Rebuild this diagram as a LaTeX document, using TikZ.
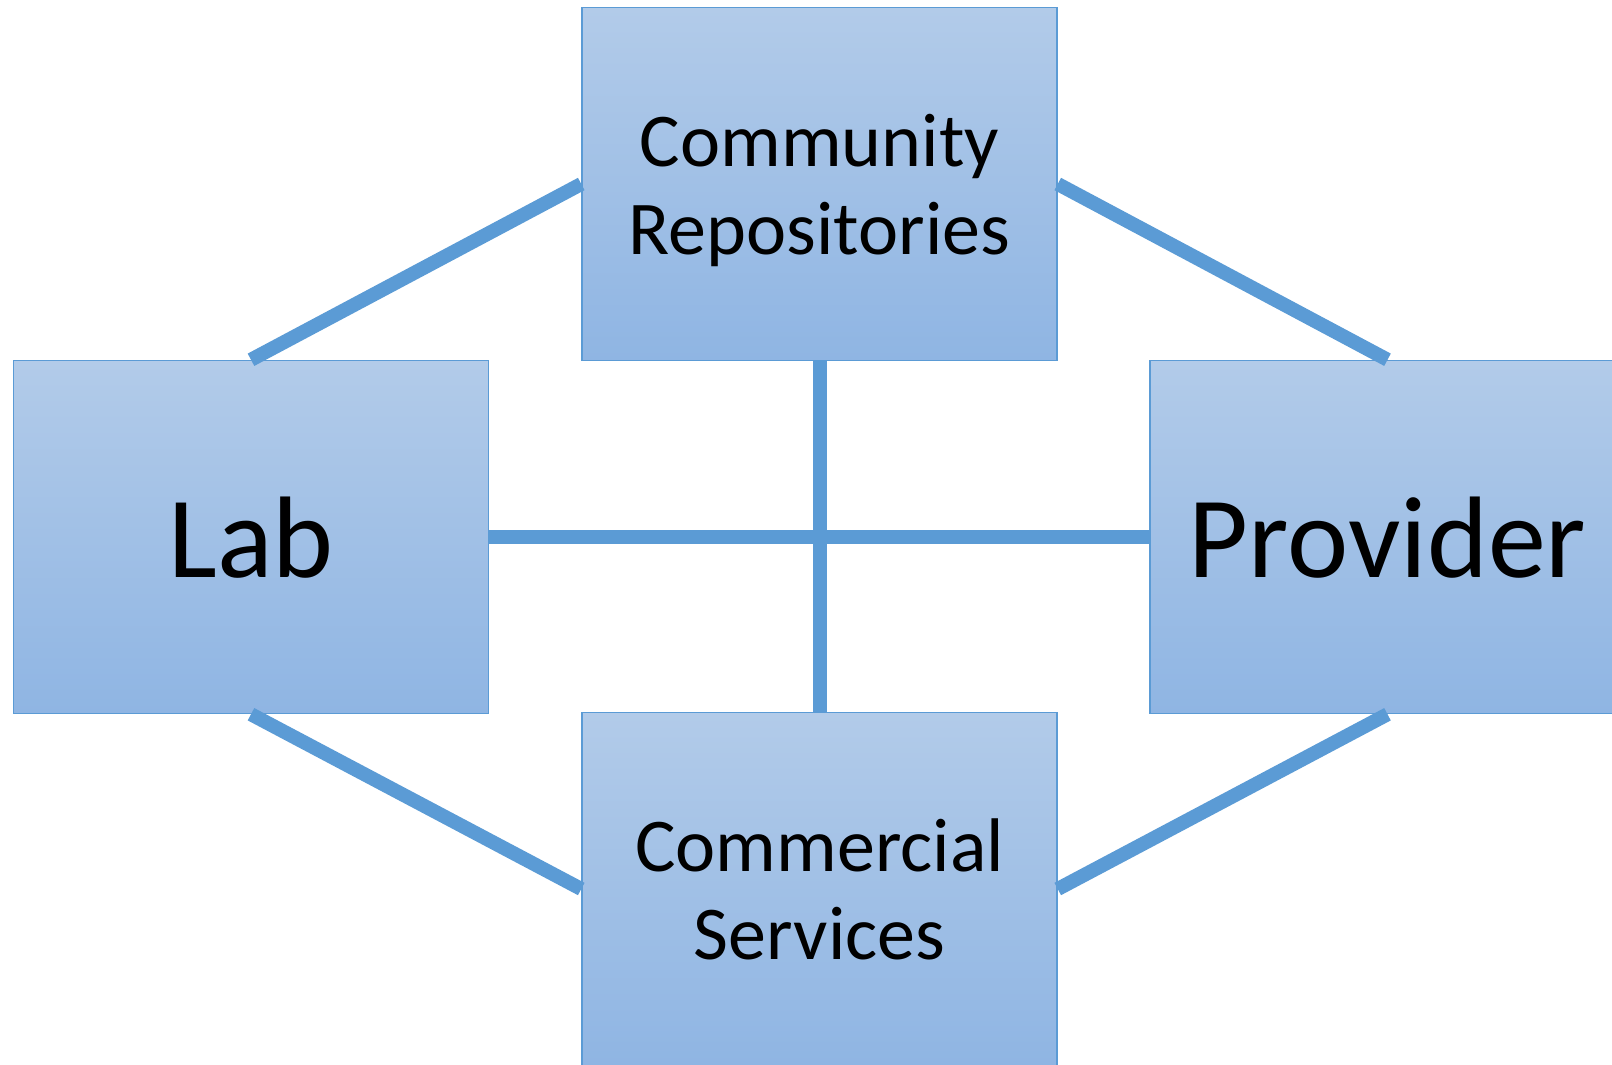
\documentclass[tikz,border=0pt]{standalone}
\usepackage{fontspec}
\setmainfont{Carlito}
\definecolor{lineblue}{RGB}{91,155,213}
\definecolor{boxtop}{RGB}{178,203,233}
\definecolor{boxbot}{RGB}{143,181,227}
\begin{document}
\begin{tikzpicture}[x=1pt,y=-1pt,
  boxnode/.style={draw=lineblue,line width=1.5pt,top color=boxtop,bottom color=boxbot,
    minimum width=475pt,minimum height=353pt,inner sep=0pt,align=center,text depth=0pt},
  bigtext/.style={font=\fontsize{116}{130}\selectfont},
  midtext/.style={font=\fontsize{76}{88}\selectfont},
  link/.style={draw=lineblue,line width=14pt}]
\clip (0,0) rectangle (1612,1065);
\useasboundingbox (0,0) rectangle (1612,1065);
\node[boxnode,midtext] (repo) at (819.5,184) {Community\\Repositories};
\node[boxnode,bigtext] (lab) at (251,537) {Lab};
\node[boxnode,bigtext] (prov) at (1387.5,537) {Provider};
\node[boxnode,midtext] (comm) at (819.5,889) {Commercial\\Services};
\draw[link] (lab.north) -- (repo.west);
\draw[link] (repo.east) -- (prov.north);
\draw[link] (lab.south) -- (comm.west);
\draw[link] (comm.east) -- (prov.south);
\draw[link] (lab.east) -- (prov.west);
\draw[link] (repo.south) -- (comm.north);
\end{tikzpicture}
\end{document}
